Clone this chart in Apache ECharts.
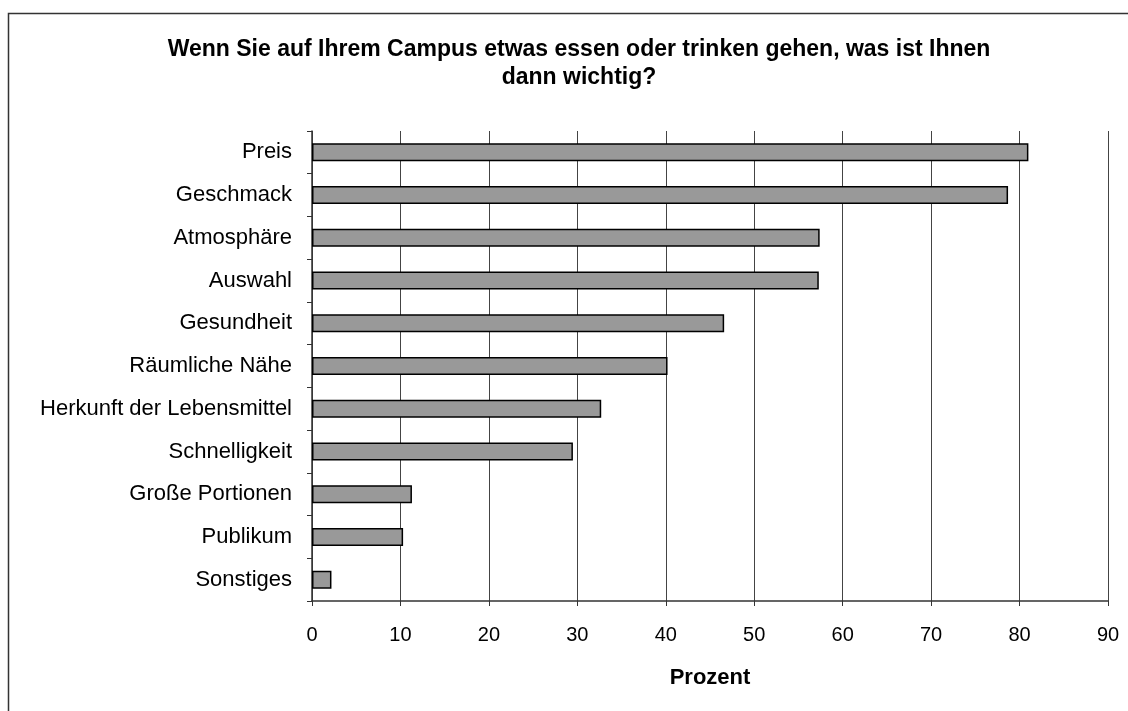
<!DOCTYPE html>
<html>
<head>
<meta charset="utf-8">
<script src="https://cdn.jsdelivr.net/npm/echarts@6/dist/echarts.min.js"></script>
<style>
html,body{margin:0;padding:0;background:#fff;}
#chart{width:1128px;height:711px;}
</style>
</head>
<body>
<div id="chart"></div>
<script>
const categories = ["Preis","Geschmack","Atmosphäre","Auswahl","Gesundheit","Räumliche Nähe","Herkunft der Lebensmittel","Schnelligkeit","Große Portionen","Publikum","Sonstiges"];
const values = [81.0, 78.7, 57.4, 57.3, 46.6, 40.2, 32.7, 29.5, 11.3, 10.3, 2.2];
const xTicks = [0,10,20,30,40,50,60,70,80,90];

const chart = echarts.init(document.getElementById('chart'));
const font = '"Liberation Sans", Arial, sans-serif';
chart.setOption({
  animation: false,
  backgroundColor: '#ffffff',
  title: {
    text: 'Wenn Sie auf Ihrem Campus etwas essen oder trinken gehen, was ist Ihnen\ndann wichtig?',
    left: 574, top: 31, textAlign: 'center',
    textStyle: {fontFamily: font, fontSize: 23, fontWeight: 'bold', color: '#000', lineHeight: 28}
  },
  graphic: [{
    type: 'rect', silent: true,
    shape: {x: 8.5, y: 13.5, width: 1140, height: 720},
    style: {fill: 'none', stroke: '#333', lineWidth: 1.5}
  }],
  grid: {left: 312, right: 20, top: 131, bottom: 110, containLabel: false},
  xAxis: {
    type: 'value', min: 0, max: 90, interval: 10,
    name: 'Prozent', nameLocation: 'middle', nameGap: 66,
    nameTextStyle: {fontFamily: font, fontSize: 22, fontWeight: 'bold', color: '#000'},
    axisLine: {show: true, lineStyle: {color: '#333', width: 1.5}},
    axisTick: {show: true, length: 5, lineStyle: {color: '#333'}},
    axisLabel: {fontFamily: font, fontSize: 20, color: '#000', margin: 24,
      formatter: v => xTicks.includes(v) ? String(v) : ''},
    splitLine: {show: true, lineStyle: {color: '#444', width: 1}}
  },
  yAxis: {
    type: 'category', data: categories, inverse: true,
    axisLine: {show: true, lineStyle: {color: '#333', width: 1.5}},
    axisTick: {show: true, length: 5, lineStyle: {color: '#333'}},
    axisLabel: {fontFamily: font, fontSize: 22, color: '#000', margin: 20},
    splitLine: {show: false}
  },
  series: [{
    type: 'bar', data: values, barWidth: 18,
    itemStyle: {color: '#999999', borderColor: '#000', borderWidth: 1.5}
  }]
});
</script>
</body>
</html>
